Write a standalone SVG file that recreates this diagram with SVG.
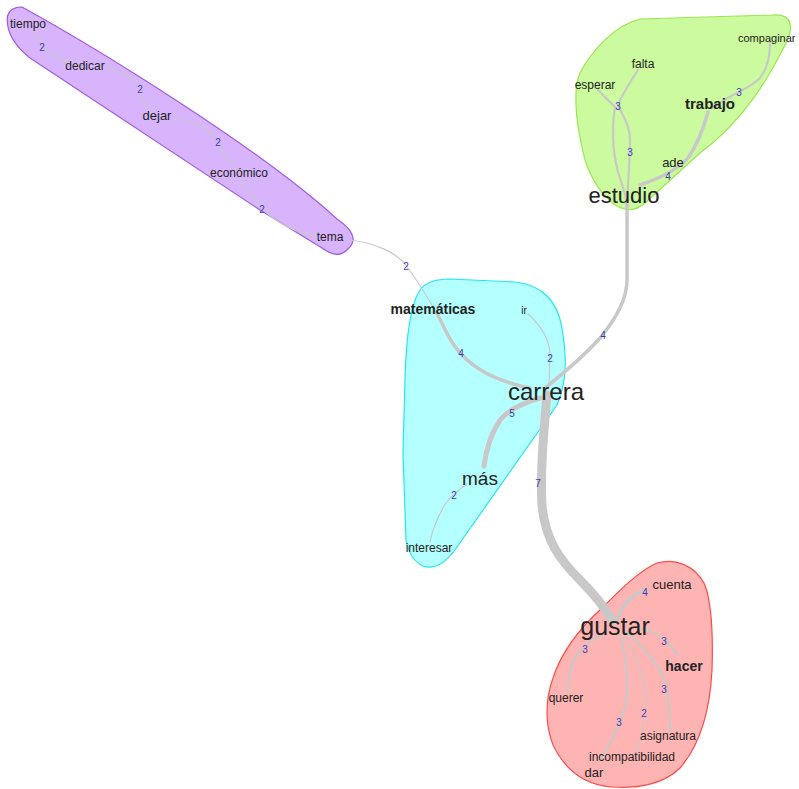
<svg xmlns="http://www.w3.org/2000/svg" width="799" height="789" viewBox="0 0 799 789">
<style>
.bg{fill:#ffffff}
.blob{stroke-width:1.2}
.purple{fill:#d8b4fc;stroke:#a05ae8}
.green{fill:#ccfa9e;stroke:#9ae650}
.cyan{fill:#b4ffff;stroke:#22e8ee}
.red{fill:#ffb4b4;stroke:#ff4a4a}
.e{fill:none;stroke:#c8c8c8;stroke-linecap:round}
.w2{stroke-width:1.2}
.w3{stroke-width:2.2}
.w4{stroke-width:3.5}
.w5{stroke-width:5}
.w7{stroke-width:9}
.n{font-family:"Liberation Sans",Arial,sans-serif;fill:#222;text-anchor:middle}
.s{text-anchor:start}
.b{font-weight:bold}
.l{font-family:"Liberation Sans",Arial,sans-serif;fill:#3b3bb3;font-size:10px;text-anchor:middle}
</style>
<rect class="bg" x="0" y="0" width="799" height="789"/>
<g id="clusters">
<path class="blob purple" d="M7.5,16 Q10,7 22,7 C100,50 262,150 337,219 Q362,236 348,249 Q338,260 322,248 L260,210 L30,58 Q5,38 7.5,16 Z"/>
<path class="blob green" d="M580,73 C592,50 615,25 640,19 L772,15 Q793,13 790,32 Q789,38 785,45 C770,75 745,120 700,153 L645,203 Q632,215 615,205 Q595,190 585,160 Q575,120 576,95 Q576,82 580,73 Z"/>
<path class="blob cyan" d="M420,290 Q428,279 450,279 L515,282 C542,285 559,300 563,335 C567,360 566,385 557,405 L457,547 Q440,572 423,566 Q410,560 406,540 L403,453 L405,380 C406,340 410,305 420,290 Z"/>
<path class="blob red" d="M657,563 C675,558 695,565 705,585 C712,605 713,640 712,670 C710,710 700,745 680,768 C665,783 640,789 612,787 C585,785 565,770 553,745 C545,725 545,700 553,678 C562,650 580,628 602,608 C620,590 640,570 657,563 Z"/>
</g>
<g id="connectors">
<path class="e w2" d="M33,30 Q40,44 48,52 Q62,63 82,66"/>
<path class="e w2" d="M108,68 C125,72 138,80 141,92 C143,102 148,110 152,114"/>
<path class="e w2" d="M175,118 C195,122 212,130 218,142 C224,155 232,165 238,170"/>
<path class="e w2" d="M240,180 C248,192 255,198 262,208 C275,222 295,232 316,236"/>
<path class="e w2" d="M350,240 C375,243 395,252 405,264 C417,280 428,298 438,315"/>
<path class="e w4" d="M437,313 C445,330 452,345 462,355 C478,372 500,382 530,388"/>
<path class="e w2" d="M528,314 C540,325 550,338 550,355 L549,385"/>
<path class="e w4" d="M627,200 L627,280 C627,300 615,320 600,338 C585,355 565,372 545,388"/>
<path class="e w5" d="M540,398 C525,402 508,410 500,420 C492,432 486,450 484,466"/>
<path class="e w2" d="M467,484 C458,490 450,496 444,506 C436,520 432,532 430,542"/>
<path class="e w7" d="M547,395 C544,430 540,470 542,505 C545,540 560,560 580,580 C595,595 605,608 612,620"/>
<path class="e w4" d="M617,620 C622,605 630,595 645,590"/>
<path class="e w3" d="M640,628 C652,630 662,636 670,645 L678,655"/>
<path class="e w3" d="M605,633 C595,638 585,645 577,655 C570,665 568,680 567,692"/>
<path class="e w3" d="M620,635 C627,660 630,690 624,710 C618,730 608,748 600,760"/>
<path class="e w2" d="M623,633 C635,655 648,680 646,705 C645,725 640,740 637,753"/>
<path class="e w3" d="M627,632 C640,645 655,660 662,675 C668,690 670,710 670,732"/>
<path class="e w3" d="M598,90 L615,107 C612,125 612,150 618,172 C622,185 626,195 627,205"/>
<path class="e w3" d="M638,70 C630,82 622,95 618,105 C622,115 630,125 630,140 C630,160 628,180 627,205"/>
<path class="e w3" d="M770,42 C770,55 768,68 760,78 C752,86 742,90 735,94 C725,99 718,104 712,108"/>
<path class="e w4" d="M708,112 C703,130 697,145 688,158 C678,170 660,178 640,185"/>
</g>
<g id="edge-labels">
<text class="l" x="42" y="51">2</text>
<text class="l" x="140" y="93">2</text>
<text class="l" x="218" y="146">2</text>
<text class="l" x="262" y="213">2</text>
<text class="l" x="406" y="270">2</text>
<text class="l" x="618" y="110">3</text>
<text class="l" x="630" y="156">3</text>
<text class="l" x="739" y="96">3</text>
<text class="l" x="668" y="180">4</text>
<text class="l" x="461" y="357">4</text>
<text class="l" x="550" y="362">2</text>
<text class="l" x="512" y="417">5</text>
<text class="l" x="538" y="487">7</text>
<text class="l" x="454" y="499">2</text>
<text class="l" x="603" y="339">4</text>
<text class="l" x="645" y="596">4</text>
<text class="l" x="664" y="645">3</text>
<text class="l" x="585" y="653">3</text>
<text class="l" x="664" y="693">3</text>
<text class="l" x="644" y="717">2</text>
<text class="l" x="619" y="726">3</text>
</g>
<g id="node-tiempo"><text class="n" x="28" y="28" font-size="12">tiempo</text></g>
<g id="node-dedicar"><text class="n" x="85" y="70" font-size="12">dedicar</text></g>
<g id="node-dejar"><text class="n" x="157" y="120" font-size="13">dejar</text></g>
<g id="node-economico"><text class="n" x="239" y="177" font-size="12">económico</text></g>
<g id="node-tema"><text class="n" x="330" y="241" font-size="12">tema</text></g>
<g id="node-compaginar"><text class="n s" x="738" y="42" font-size="11">compaginar</text></g>
<g id="node-falta"><text class="n" x="643" y="68" font-size="12">falta</text></g>
<g id="node-esperar"><text class="n" x="595" y="89" font-size="12">esperar</text></g>
<g id="node-trabajo"><text class="n b" x="710" y="109" font-size="15">trabajo</text></g>
<g id="node-ade"><text class="n" x="673" y="167" font-size="13">ade</text></g>
<g id="node-estudio"><text class="n" x="624" y="203" font-size="22">estudio</text></g>
<g id="node-matematicas"><text class="n b" x="433" y="314" font-size="14">matemáticas</text></g>
<g id="node-ir"><text class="n" x="524" y="314" font-size="10">ir</text></g>
<g id="node-carrera"><text class="n" x="546" y="400" font-size="24">carrera</text></g>
<g id="node-mas"><text class="n" x="480" y="485" font-size="19">más</text></g>
<g id="node-interesar"><text class="n" x="429" y="552" font-size="12">interesar</text></g>
<g id="node-cuenta"><text class="n" x="672" y="589" font-size="13">cuenta</text></g>
<g id="node-gustar"><text class="n" x="615" y="635" font-size="25">gustar</text></g>
<g id="node-hacer"><text class="n b" x="684" y="671" font-size="14">hacer</text></g>
<g id="node-querer"><text class="n" x="566" y="702" font-size="12">querer</text></g>
<g id="node-asignatura"><text class="n" x="668" y="740" font-size="12">asignatura</text></g>
<g id="node-incompatibilidad"><text class="n" x="632" y="761" font-size="12">incompatibilidad</text></g>
<g id="node-dar"><text class="n" x="594" y="777" font-size="13">dar</text></g>
</svg>
